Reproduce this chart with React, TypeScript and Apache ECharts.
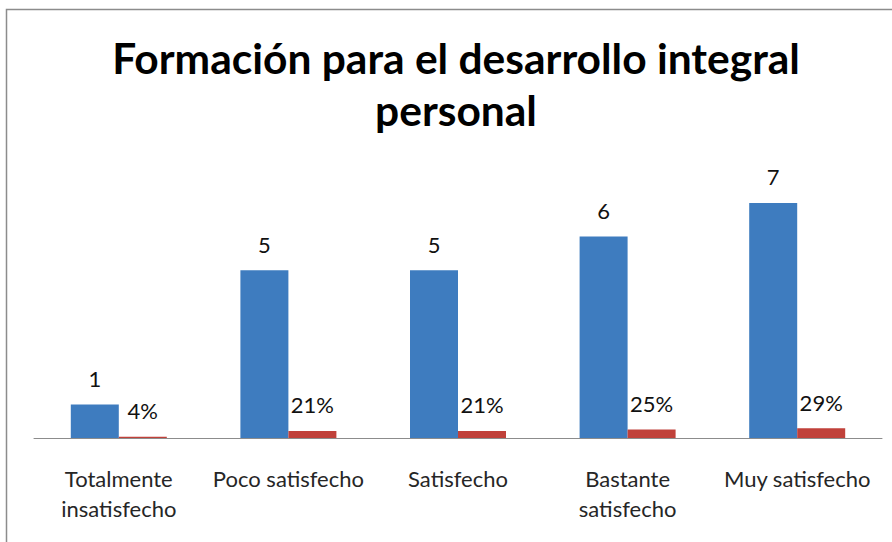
import React, { useEffect, useRef } from "react";
import * as echarts from "echarts";

const titleText = "Formación para el desarrollo integral\npersonal";
const categories = [
  "Totalmente\ninsatisfecho",
  "Poco satisfecho",
  "Satisfecho",
  "Bastante\nsatisfecho",
  "Muy satisfecho",
];
const counts = [1, 5, 5, 6, 7];
const shares = [0.04, 0.21, 0.21, 0.25, 0.29];
const shareLabels = ["4%", "21%", "21%", "25%", "29%"];

const FONT = "Lato, 'Open Sans', sans-serif";

export default function App() {
  const ref = useRef<HTMLDivElement>(null);
  useEffect(() => {
    if (!ref.current) return;
    const chart = echarts.init(ref.current, undefined, { renderer: "svg" });
    chart.setOption({
      animation: false,
      backgroundColor: "#ffffff",
      graphic: [
        {
          type: "polyline",
          shape: { points: [[6.5, 600], [6.5, 9.5], [900, 9.5]] },
          style: { stroke: "#8c8c8c", lineWidth: 1.5, fill: "none" },
          silent: true,
        },
        {
          type: "text",
          x: 456,
          y: 31,
          silent: true,
          style: {
            text: titleText,
            textAlign: "center",
            fontFamily: FONT,
            fontSize: 42.5,
            fontWeight: "bold",
            lineHeight: 52,
            fill: "#000000",
          },
        },
      ],
      grid: { left: 34, right: 10, top: 169.4, bottom: 104 },
      xAxis: {
        type: "category",
        data: categories,
        axisLine: { lineStyle: { color: "#8c8c8c", width: 1 } },
        axisTick: { show: false },
        axisLabel: {
          interval: 0,
          margin: 25,
          fontFamily: FONT,
          fontSize: 22,
          lineHeight: 30,
          color: "#262626",
        },
      },
      yAxis: {
        type: "value",
        min: 0,
        max: 8,
        show: false,
        splitLine: { show: false },
      },
      series: [
        {
          type: "bar",
          data: counts,
          barWidth: 48,
          barGap: "0%",
          itemStyle: { color: "#3E7CBF" },
          label: {
            show: true,
            position: "top",
            distance: 15,
            fontFamily: FONT,
            fontSize: 22,
            color: "#111111",
          },
        },
        {
          type: "bar",
          data: shares,
          barWidth: 48,
          barGap: "0%",
          itemStyle: { color: "#C0413A" },
          label: {
            show: true,
            position: "top",
            distance: 15,
            fontFamily: FONT,
            fontSize: 22,
            color: "#111111",
            formatter: (p: any) => shareLabels[p.dataIndex],
          },
        },
      ],
    });
    return () => chart.dispose();
  }, []);
  return (
    <div
      ref={ref}
      style={{ position: "fixed", left: 0, top: 0, width: 892, height: 542 }}
    />
  );
}
